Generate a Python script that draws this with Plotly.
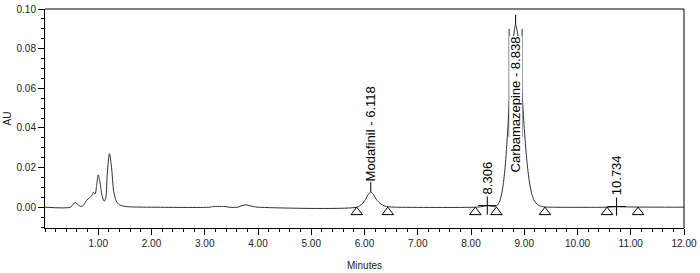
import plotly.graph_objects as go

# ---------------- data ----------------
time_min = [0.00, 0.48, 0.53, 0.57, 0.62, 0.68, 0.73, 0.78, 0.84, 0.88, 0.91, 0.94,
            0.97, 1.00, 1.03, 1.07, 1.11, 1.14, 1.17, 1.21, 1.25, 1.29, 1.34, 1.40,
            1.50, 1.65, 2.00, 3.10, 3.15, 3.40, 3.45, 3.62, 3.70, 3.78, 3.85, 3.92,
            4.00, 5.85, 5.95, 6.02, 6.08, 6.118, 6.16, 6.22, 6.30, 6.38, 6.45, 6.60,
            8.08, 8.20, 8.306, 8.40, 8.44, 8.49, 8.54, 8.59, 8.64, 8.69, 8.74, 8.79,
            8.838, 8.89, 8.94, 8.99, 9.04, 9.09, 9.14, 9.19, 9.25, 9.32, 9.40, 9.50,
            10.55, 10.734, 11.00, 12.00]
au = [0.0000, 0.0000, 0.0015, 0.0025, 0.0012, 0.0004, 0.0012, 0.0035, 0.0048, 0.0060, 0.0075, 0.0066,
      0.0110, 0.0163, 0.0130, 0.0060, 0.0030, 0.0045, 0.0170, 0.0270, 0.0200, 0.0080, 0.0030, 0.0012,
      0.0004, 0.0001, 0.0000, 0.0000, 0.0003, 0.0003, 0.0000, 0.0000, 0.0008, 0.0012, 0.0007, 0.0003,
      0.0000, 0.0000, 0.0015, 0.0040, 0.0068, 0.0076, 0.0068, 0.0040, 0.0018, 0.0006, 0.0002, 0.0000,
      0.0000, 0.0003, 0.0008, 0.0004, 0.0003, 0.0009, 0.0031, 0.0087, 0.0200, 0.0390, 0.0630, 0.0840,
      0.0920, 0.0850, 0.0660, 0.0440, 0.0260, 0.0140, 0.0068, 0.0032, 0.0013, 0.0004, 0.0001, 0.0000,
      0.0000, 0.0003, 0.0001, 0.0000]

peak_names = ["Modafinil", "", "Carbamazepine", ""]
peak_rt = [6.118, 8.306, 8.838, 10.734]
peak_height = [0.0076, 0.0008, 0.0920, 0.0003]

baseline_marks = [5.855, 6.438, 8.081, 8.476, 9.389, 10.555, 11.137]

x_ticks = [1, 2, 3, 4, 5, 6, 7, 8, 9, 10, 11, 12]
x_tick_labels = ["1.00", "2.00", "3.00", "4.00", "5.00", "6.00", "7.00", "8.00",
                 "9.00", "10.00", "11.00", "12.00"]
y_ticks = [0.00, 0.02, 0.04, 0.06, 0.08, 0.10]
y_tick_labels = ["0.00", "0.02", "0.04", "0.06", "0.08", "0.10"]

# ---------------- figure ----------------
FONT = "Liberation Sans, Arial, sans-serif"
fig = go.Figure()

fig.add_trace(go.Scatter(x=time_min, y=au, mode="lines",
                         line=dict(color="#303030", width=1, shape="spline", smoothing=0.8),
                         hoverinfo="skip", showlegend=False))

fig.add_trace(go.Scatter(x=baseline_marks, y=[-0.0025] * len(baseline_marks), mode="markers",
                         marker=dict(symbol="triangle-up-open", size=10,
                                     color="#000000", line=dict(width=1, color="#000000")),
                         hoverinfo="skip", showlegend=False))

unnamed_x = [rt for n, rt in zip(peak_names, peak_rt) if not n]
unnamed_y = [h for n, h in zip(peak_names, peak_height) if not n]
fig.add_trace(go.Scatter(x=unnamed_x, y=unnamed_y, mode="markers",
                         marker=dict(symbol="cross-thin-open", size=13, color="#000000",
                                     line=dict(width=1, color="#000000")),
                         hoverinfo="skip", showlegend=False))

shapes = []
annotations = []
for name, rt, h in zip(peak_names, peak_rt, peak_height):
    label = f"{name} - {rt:.3f}" if name else f"{rt:.3f}"
    if name:
        shapes.append(dict(type="line", xref="x", yref="y", ysizemode="pixel",
                           yanchor=h, x0=rt, x1=rt, y0=0, y1=10,
                           line=dict(color="#000000", width=1)))
    if h > 0.05:
        # label placed inside the tall peak, white box with the peak sides along it
        annotations.append(dict(x=rt, y=h, xref="x", yref="y", text=label,
                                showarrow=False, textangle=-90, yanchor="top",
                                xanchor="center", yshift=-11, bgcolor="#ffffff",
                                borderpad=0, height=12,
                                font=dict(family=FONT, size=13, color="#000000")))
        for side in (-6.5, 6.5):
            shapes.append(dict(type="line", xref="x", yref="y",
                               xsizemode="pixel", xanchor=rt, x0=side, x1=side,
                               ysizemode="pixel", yanchor=h, y0=-4, y1=-112,
                               line=dict(color="#303030", width=1)))
    else:
        annotations.append(dict(x=rt, y=h, xref="x", yref="y", text=label,
                                showarrow=False, textangle=-90, yanchor="bottom",
                                xanchor="center", yshift=10, borderpad=0,
                                font=dict(family=FONT, size=13, color="#000000")))

# frame: gray top line, black right line
shapes.append(dict(type="line", xref="paper", yref="paper", x0=0, x1=1, y0=1, y1=1,
                   line=dict(color="#808080", width=2)))
shapes.append(dict(type="line", xref="paper", yref="paper", x0=1, x1=1, y0=0, y1=1,
                   line=dict(color="#000000", width=1)))

fig.update_layout(
    width=700, height=273,
    margin=dict(l=45, r=16, t=9, b=45),
    paper_bgcolor="#ffffff", plot_bgcolor="#ffffff",
    font=dict(family=FONT, size=10, color="#222222"),
    shapes=shapes, annotations=annotations,
    xaxis=dict(range=[0, 12], showgrid=False, zeroline=False, automargin=False,
               showline=True, linecolor="#000000", linewidth=1,
               ticks="outside", ticklen=6, tickcolor="#000000", tickwidth=1,
               tickvals=x_ticks, ticktext=x_tick_labels,
               minor=dict(dtick=0.2, tick0=0, ticks="outside", ticklen=3,
                          tickcolor="#000000", showgrid=False),
               title=dict(text="Minutes", standoff=13, font=dict(size=10))),
    yaxis=dict(range=[-0.0105, 0.10], showgrid=False, zeroline=False, automargin=False,
               showline=True, linecolor="#000000", linewidth=1,
               ticks="outside", ticklen=6, tickcolor="#000000", tickwidth=1,
               tickvals=y_ticks, ticktext=y_tick_labels,
               minor=dict(dtick=0.005, tick0=0, ticks="outside", ticklen=3,
                          tickcolor="#000000", showgrid=False),
               title=dict(text="AU", standoff=3, font=dict(size=10))),
)

fig.write_html("out.html", config={"displayModeBar": False},
               post_script="document.body.style.margin='0';")
